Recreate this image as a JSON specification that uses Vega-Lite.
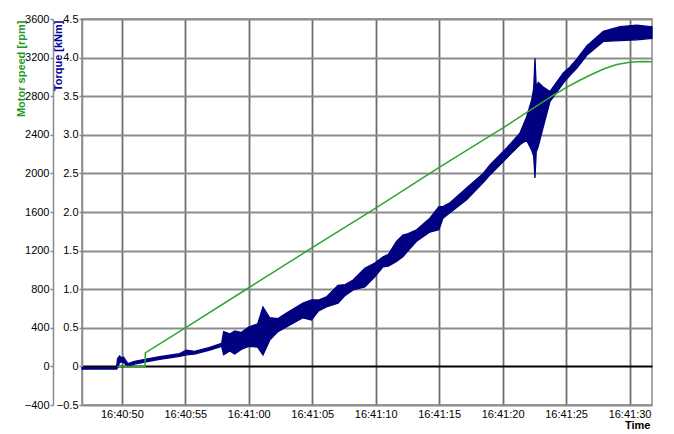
{
  "$schema": "https://vega.github.io/schema/vega-lite/v6.json",
  "width": 570,
  "height": 386,
  "autosize": {"type": "none"},
  "padding": {"left": 82, "top": 19, "right": 22, "bottom": 29},
  "background": "white",
  "config": {
    "view": {"stroke": "#8a8a8a", "strokeWidth": 1.5},
    "font": "Liberation Sans",
    "axis": {"labelFont": "Liberation Sans", "titleFont": "Liberation Sans", "labelColor": "black", "labelFontSize": 11}
  },
  "datasets": {
    "torque": [
      {"t": "2020-01-01T16:40:46.860", "lo": -0.035, "hi": -0.015},
      {"t": "2020-01-01T16:40:49.580", "lo": -0.035, "hi": -0.015},
      {"t": "2020-01-01T16:40:49.660", "lo": -0.02, "hi": 0.10},
      {"t": "2020-01-01T16:40:49.820", "lo": 0.05, "hi": 0.135},
      {"t": "2020-01-01T16:40:49.980", "lo": 0.06, "hi": 0.11},
      {"t": "2020-01-01T16:40:50.130", "lo": 0.05, "hi": 0.12},
      {"t": "2020-01-01T16:40:50.470", "lo": 0.0, "hi": 0.035},
      {"t": "2020-01-01T16:40:51.000", "lo": 0.03, "hi": 0.065},
      {"t": "2020-01-01T16:40:51.920", "lo": 0.06, "hi": 0.095},
      {"t": "2020-01-01T16:40:52.970", "lo": 0.09, "hi": 0.125},
      {"t": "2020-01-01T16:40:54.550", "lo": 0.13, "hi": 0.165},
      {"t": "2020-01-01T16:40:55.080", "lo": 0.15, "hi": 0.21},
      {"t": "2020-01-01T16:40:55.730", "lo": 0.16, "hi": 0.195},
      {"t": "2020-01-01T16:40:56.920", "lo": 0.21, "hi": 0.245},
      {"t": "2020-01-01T16:40:57.860", "lo": 0.26, "hi": 0.30},
      {"t": "2020-01-01T16:40:58.020", "lo": 0.15, "hi": 0.45},
      {"t": "2020-01-01T16:40:58.500", "lo": 0.20, "hi": 0.42},
      {"t": "2020-01-01T16:40:58.890", "lo": 0.16, "hi": 0.46},
      {"t": "2020-01-01T16:40:59.400", "lo": 0.22, "hi": 0.44},
      {"t": "2020-01-01T16:40:59.990", "lo": 0.26, "hi": 0.51},
      {"t": "2020-01-01T16:41:00.700", "lo": 0.25, "hi": 0.55},
      {"t": "2020-01-01T16:41:01.120", "lo": 0.15, "hi": 0.77},
      {"t": "2020-01-01T16:41:01.650", "lo": 0.34, "hi": 0.63},
      {"t": "2020-01-01T16:41:02.300", "lo": 0.45, "hi": 0.62},
      {"t": "2020-01-01T16:41:02.970", "lo": 0.51, "hi": 0.69},
      {"t": "2020-01-01T16:41:04.270", "lo": 0.63, "hi": 0.82},
      {"t": "2020-01-01T16:41:04.940", "lo": 0.60, "hi": 0.86},
      {"t": "2020-01-01T16:41:05.500", "lo": 0.72, "hi": 0.86},
      {"t": "2020-01-01T16:41:06.120", "lo": 0.77, "hi": 0.90},
      {"t": "2020-01-01T16:41:07.030", "lo": 0.82, "hi": 1.05},
      {"t": "2020-01-01T16:41:07.600", "lo": 0.92, "hi": 1.06},
      {"t": "2020-01-01T16:41:08.220", "lo": 0.99, "hi": 1.12},
      {"t": "2020-01-01T16:41:09.140", "lo": 1.03, "hi": 1.27},
      {"t": "2020-01-01T16:41:09.930", "lo": 1.16, "hi": 1.34},
      {"t": "2020-01-01T16:41:10.580", "lo": 1.29, "hi": 1.42},
      {"t": "2020-01-01T16:41:11.000", "lo": 1.30, "hi": 1.45},
      {"t": "2020-01-01T16:41:11.640", "lo": 1.36, "hi": 1.62},
      {"t": "2020-01-01T16:41:12.140", "lo": 1.42, "hi": 1.70},
      {"t": "2020-01-01T16:41:12.560", "lo": 1.50, "hi": 1.72},
      {"t": "2020-01-01T16:41:13.220", "lo": 1.62, "hi": 1.77},
      {"t": "2020-01-01T16:41:14.270", "lo": 1.74, "hi": 1.92},
      {"t": "2020-01-01T16:41:14.980", "lo": 1.77, "hi": 2.07},
      {"t": "2020-01-01T16:41:15.300", "lo": 1.92, "hi": 2.07},
      {"t": "2020-01-01T16:41:15.850", "lo": 1.99, "hi": 2.12},
      {"t": "2020-01-01T16:41:17.160", "lo": 2.16, "hi": 2.31},
      {"t": "2020-01-01T16:41:18.470", "lo": 2.38, "hi": 2.50},
      {"t": "2020-01-01T16:41:19.000", "lo": 2.48, "hi": 2.61},
      {"t": "2020-01-01T16:41:20.320", "lo": 2.70, "hi": 2.83},
      {"t": "2020-01-01T16:41:21.360", "lo": 2.87, "hi": 3.02},
      {"t": "2020-01-01T16:41:21.890", "lo": 2.93, "hi": 3.23},
      {"t": "2020-01-01T16:41:22.290", "lo": 2.80, "hi": 3.45},
      {"t": "2020-01-01T16:41:22.450", "lo": 2.72, "hi": 3.60},
      {"t": "2020-01-01T16:41:22.550", "lo": 2.44, "hi": 3.99},
      {"t": "2020-01-01T16:41:22.650", "lo": 2.78, "hi": 3.62},
      {"t": "2020-01-01T16:41:22.810", "lo": 2.85, "hi": 3.68},
      {"t": "2020-01-01T16:41:23.200", "lo": 3.10, "hi": 3.62},
      {"t": "2020-01-01T16:41:23.730", "lo": 3.43, "hi": 3.56},
      {"t": "2020-01-01T16:41:24.780", "lo": 3.67, "hi": 3.80},
      {"t": "2020-01-01T16:41:25.310", "lo": 3.77, "hi": 3.88},
      {"t": "2020-01-01T16:41:25.840", "lo": 3.86, "hi": 3.98},
      {"t": "2020-01-01T16:41:26.630", "lo": 4.03, "hi": 4.15},
      {"t": "2020-01-01T16:41:27.930", "lo": 4.21, "hi": 4.34},
      {"t": "2020-01-01T16:41:29.250", "lo": 4.22, "hi": 4.40},
      {"t": "2020-01-01T16:41:30.570", "lo": 4.23, "hi": 4.42},
      {"t": "2020-01-01T16:41:31.770", "lo": 4.25, "hi": 4.40}
    ],
    "speed": [
      {"t": "2020-01-01T16:40:49.650", "rpm": 0},
      {"t": "2020-01-01T16:40:51.820", "rpm": 0},
      {"t": "2020-01-01T16:40:51.850", "rpm": 140},
      {"t": "2020-01-01T16:40:55.000", "rpm": 400},
      {"t": "2020-01-01T16:41:00.000", "rpm": 815},
      {"t": "2020-01-01T16:41:05.000", "rpm": 1230},
      {"t": "2020-01-01T16:41:10.000", "rpm": 1640},
      {"t": "2020-01-01T16:41:15.000", "rpm": 2063},
      {"t": "2020-01-01T16:41:20.000", "rpm": 2470},
      {"t": "2020-01-01T16:41:22.000", "rpm": 2640},
      {"t": "2020-01-01T16:41:24.000", "rpm": 2810},
      {"t": "2020-01-01T16:41:25.000", "rpm": 2888},
      {"t": "2020-01-01T16:41:26.000", "rpm": 2960},
      {"t": "2020-01-01T16:41:27.000", "rpm": 3025},
      {"t": "2020-01-01T16:41:28.000", "rpm": 3085},
      {"t": "2020-01-01T16:41:29.000", "rpm": 3128},
      {"t": "2020-01-01T16:41:30.000", "rpm": 3152},
      {"t": "2020-01-01T16:41:31.000", "rpm": 3160},
      {"t": "2020-01-01T16:41:31.770", "rpm": 3158}
    ]
  },
  "layer": [
    {
      "data": {"name": "torque"},
      "mark": {"type": "area", "color": "#000080", "stroke": "#000080", "strokeWidth": 1.3, "opacity": 1},
      "encoding": {
        "x": {
          "field": "t", "type": "temporal",
          "scale": {"domain": [
            {"year": 2020, "month": 1, "date": 1, "hours": 16, "minutes": 40, "seconds": 46, "milliseconds": 860},
            {"year": 2020, "month": 1, "date": 1, "hours": 16, "minutes": 41, "seconds": 31, "milliseconds": 770}
          ]},
          "axis": {
            "title": "Time",
            "format": "%H:%M:%S",
            "values": [
              {"year": 2020, "month": 1, "date": 1, "hours": 16, "minutes": 40, "seconds": 50},
              {"year": 2020, "month": 1, "date": 1, "hours": 16, "minutes": 40, "seconds": 55},
              {"year": 2020, "month": 1, "date": 1, "hours": 16, "minutes": 41, "seconds": 0},
              {"year": 2020, "month": 1, "date": 1, "hours": 16, "minutes": 41, "seconds": 5},
              {"year": 2020, "month": 1, "date": 1, "hours": 16, "minutes": 41, "seconds": 10},
              {"year": 2020, "month": 1, "date": 1, "hours": 16, "minutes": 41, "seconds": 15},
              {"year": 2020, "month": 1, "date": 1, "hours": 16, "minutes": 41, "seconds": 20},
              {"year": 2020, "month": 1, "date": 1, "hours": 16, "minutes": 41, "seconds": 25},
              {"year": 2020, "month": 1, "date": 1, "hours": 16, "minutes": 41, "seconds": 30}
            ],
            "grid": true, "gridColor": "#6e6e6e", "gridWidth": 1.8,
            "ticks": false, "domain": false,
            "labelPadding": 3, "labelFontSize": 11, "labelFlush": false, "labelOverlap": false,
            "titleFontWeight": "bold", "titleFontSize": 11, "titleColor": "black",
            "titleAnchor": "end", "titleAlign": "right", "titleX": 568, "titleY": 23, "titleBaseline": "alphabetic"
          }
        },
        "y": {
          "field": "lo", "type": "quantitative",
          "scale": {"domain": [-0.5, 4.5], "nice": false, "zero": false},
          "axis": {
            "title": "Torque [kNm]",
            "values": [-0.5, 0, 0.5, 1, 1.5, 2, 2.5, 3, 3.5, 4, 4.5],
            "labelExpr": "datum.value == 0 ? '0' : format(datum.value, '.1f')",
            "labelOverlap": false,
            "grid": true,
            "gridColor": {"condition": {"test": "datum.value === 0", "value": "#000000"}, "value": "#8c8c8c"},
            "gridWidth": 1.8,
            "tickSize": 3, "tickColor": "#8a8a8a", "tickWidth": 1.5,
            "domainColor": "#8a8a8a", "domainWidth": 1.5,
            "labelPadding": 1, "labelBaseline": "middle", "labelFontSize": 11,
            "titleColor": "#000099", "titleFontWeight": "bold", "titleFontSize": 11,
            "titleAngle": -90, "titleAlign": "right", "titleBaseline": "middle",
            "titleX": -24, "titleY": 1
          }
        },
        "y2": {"field": "hi"}
      }
    },
    {
      "data": {"name": "speed"},
      "mark": {"type": "line", "color": "#2ea52e", "strokeWidth": 1.5},
      "encoding": {
        "x": {"field": "t", "type": "temporal"},
        "y": {
          "field": "rpm", "type": "quantitative",
          "scale": {"domain": [-400, 3600], "nice": false, "zero": false},
          "axis": {
            "orient": "left", "offset": 29,
            "title": "Motor speed [rpm]",
            "values": [-400, 0, 400, 800, 1200, 1600, 2000, 2400, 2800, 3200, 3600],
            "format": "d",
            "labelOverlap": false,
            "grid": false,
            "tickSize": 3, "tickColor": "#8a8a8a", "tickWidth": 1.5,
            "domainColor": "#8a8a8a", "domainWidth": 1.5,
            "labelPadding": 1, "labelBaseline": "middle", "labelFontSize": 11,
            "titleColor": "#1f9a1f", "titleFontWeight": "bold", "titleFontSize": 11,
            "titleAngle": -90, "titleAlign": "right", "titleBaseline": "middle",
            "titleX": -32, "titleY": 1
          }
        }
      }
    }
  ],
  "resolve": {"scale": {"y": "independent"}}
}
